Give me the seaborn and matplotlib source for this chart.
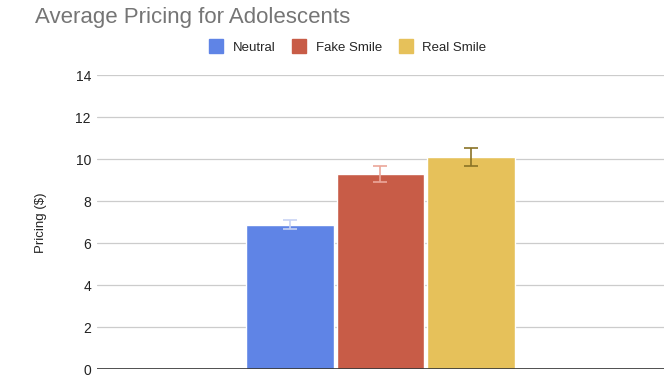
import matplotlib
matplotlib.use("Agg")
import matplotlib.pyplot as plt
import seaborn as sns
import pandas as pd
from matplotlib.lines import Line2D

categories = ["Neutral", "Fake Smile", "Real Smile"]
values = [6.89, 9.28, 10.12]
errors = [0.21, 0.38, 0.42]
colors = ["#5F84E6", "#C85C47", "#E6C15A"]
err_colors = ["#C8D3F3", "#EBA79A", "#8A7326"]

sns.set_theme(style="white")
plt.rcParams['font.family'] = ['Liberation Sans', 'DejaVu Sans']

df = pd.DataFrame({"group": [""] * 3, "cond": categories, "price": values})

fig = plt.figure(figsize=(6.64, 3.83), dpi=100)
ax = fig.add_axes([0.146, 0.0358, 0.854, 0.7676])
sns.barplot(data=df, x="group", y="price", hue="cond", hue_order=categories,
            palette=colors, width=0.48, gap=0.035, errorbar=None, ax=ax,
            legend=False, saturation=1)

for p, e, ec in zip(ax.patches, errors, err_colors):
    cx = p.get_x() + p.get_width() / 2
    ax.errorbar(cx, p.get_height(), yerr=e, color=ec, capsize=4.8, lw=1.2,
                capthick=1.2, zorder=5)

ax.set_xlim(-0.5, 0.5)
ax.set_ylim(0, 14)
ax.set_yticks(range(0, 15, 2))
ax.set_yticklabels([str(v) for v in range(0, 15, 2)], fontsize=10, color="#222222")
ax.tick_params(axis='y', length=0, pad=4.3)
ax.set_xticks([])
ax.set_xlabel("")
ax.set_ylabel("Pricing ($)", fontsize=9.5, color="#222222")
ax.yaxis.set_label_coords(-0.088, 0.498)
ax.grid(axis='y', color="#CCCCCC", lw=0.9)
ax.set_axisbelow(True)
for s in ax.spines.values():
    s.set_visible(False)
ax.axhline(0, color="#333333", lw=1.2, zorder=6)

fig.text(35 / 664, 1 - 23 / 383, "Average Pricing for Adolescents", fontsize=16,
         color="#757575", ha="left", va="baseline")

handles = [Line2D([], [], marker='s', linestyle='', markersize=10,
                  markerfacecolor=c, markeredgecolor=c) for c in colors]
fig.legend(handles, categories, loc="center", bbox_to_anchor=(348 / 664, 1 - 47.5 / 383),
           ncol=3, frameon=False, fontsize=9.5, handletextpad=0.75,
           columnspacing=1.3, handlelength=1.0)

fig.savefig("out.png", dpi=100)
